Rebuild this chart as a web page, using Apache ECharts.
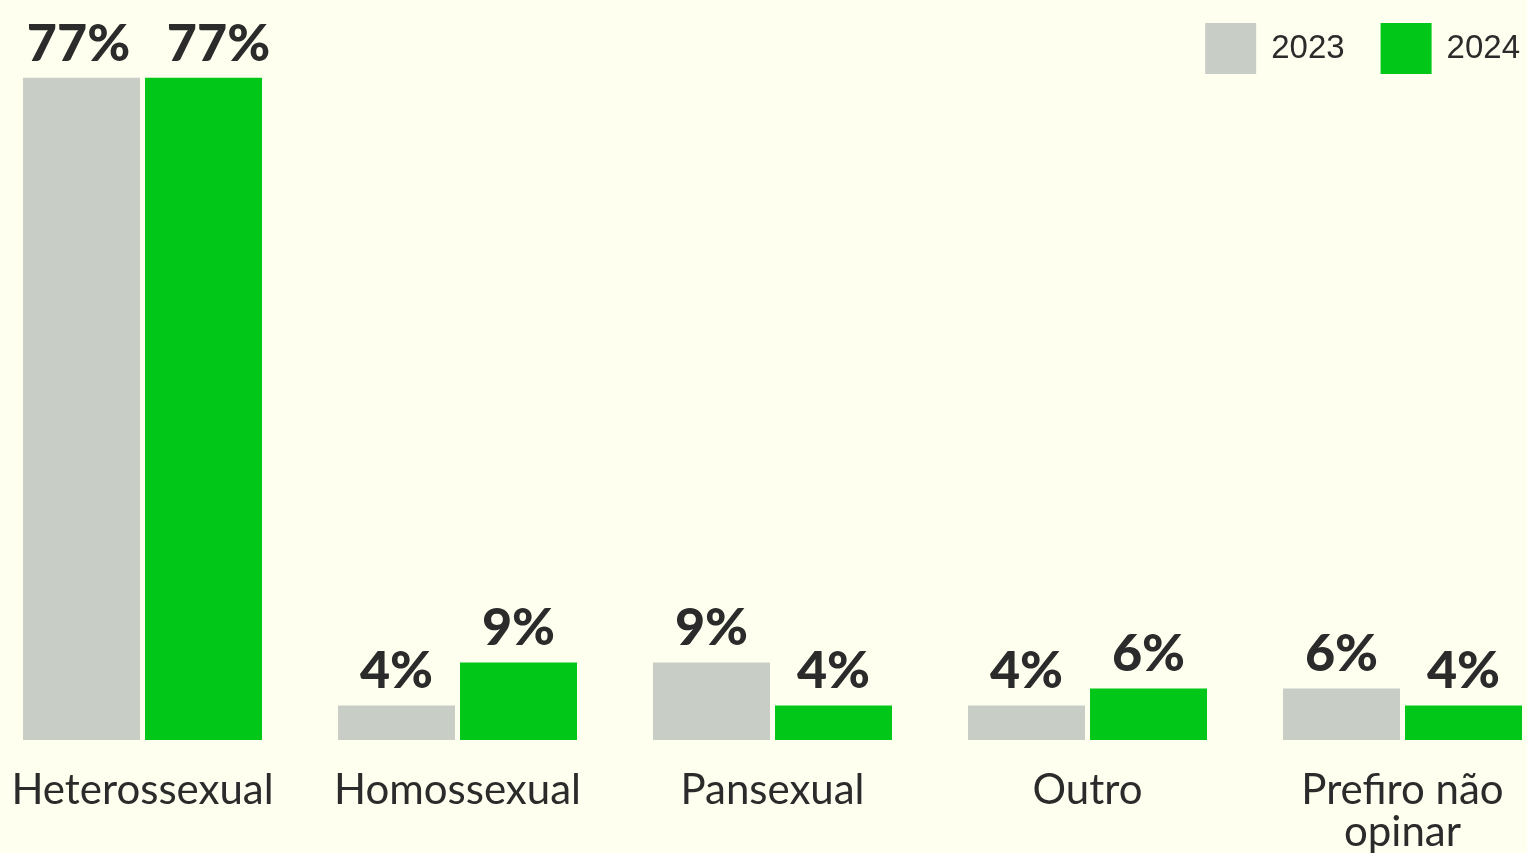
<!DOCTYPE html>
<html>
<head>
<meta charset="utf-8">
<script src="https://cdn.jsdelivr.net/npm/echarts@6/dist/echarts.min.js"></script>
<style>
  html, body { margin: 0; padding: 0; background: #FEFFEE; overflow: hidden; }
  /* o grid passa um pouco das bordas da janela, como no original */
  #chart { position: absolute; left: -15px; top: 0; width: 1575px; height: 853px; }
</style>
</head>
<body>
<div id="chart"></div>
<script>
  // dados
  var categorias = ['Heterossexual', 'Homossexual', 'Pansexual', 'Outro', 'Prefiro não\nopinar'];
  var anos = ['2023', '2024'];
  var valores2023 = [77, 4, 9, 4, 6];
  var valores2024 = [77, 9, 4, 6, 4];

  var myChart = echarts.init(document.getElementById('chart'));

  var rotulo = {
    show: true,
    position: 'top',
    distance: 8,
    formatter: '{c}%',
    color: '#2B2B2B',
    fontFamily: 'Lato',
    fontWeight: 900,
    fontSize: 52
  };

  myChart.setOption({
    backgroundColor: '#FEFFEE',
    animation: false,
    legend: {
      data: anos,
      top: 23,
      right: 40,
      padding: 0,
      itemWidth: 51,
      itemHeight: 51,
      itemGap: 36,
      icon: 'rect',
      textStyle: {
        color: '#2B2B2B',
        fontFamily: 'Liberation Sans',
        fontSize: 33,
        padding: [0, 0, 0, 10]
      }
    },
    grid: {
      left: 0,
      right: 0,
      top: 52,
      bottom: 113,
      containLabel: false,
      outerBoundsMode: 'none'
    },
    xAxis: {
      type: 'category',
      data: categorias,
      axisLine: { show: false },
      axisTick: { show: false },
      axisLabel: {
        interval: 0,
        color: '#2B2B2B',
        fontFamily: 'Lato',
        fontSize: 42,
        lineHeight: 42,
        margin: 29
      }
    },
    yAxis: {
      type: 'value',
      min: 0,
      max: 80,
      show: false,
      splitLine: { show: false }
    },
    series: [
      {
        name: '2023',
        type: 'bar',
        data: valores2023,
        barWidth: 117,
        barGap: '4.3%',
        itemStyle: { color: '#C8CEC6' },
        label: rotulo,
        labelLayout: function (p) {
          return p.dataIndex === 0 ? { dx: -3 } : {};
        }
      },
      {
        name: '2024',
        type: 'bar',
        data: valores2024,
        barWidth: 117,
        itemStyle: { color: '#00C718' },
        label: rotulo,
        labelLayout: function (p) {
          // no original o rótulo do primeiro par fica um pouco à direita
          return p.dataIndex === 0 ? { dx: 15 } : {};
        }
      }
    ]
  });
  window.onresize = myChart.resize;
</script>
</body>
</html>
